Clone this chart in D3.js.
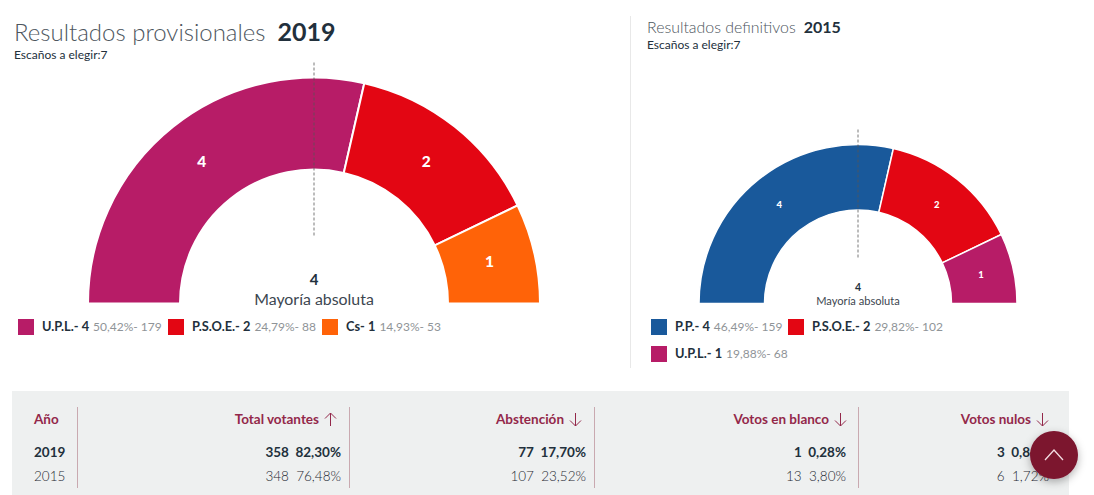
<!DOCTYPE html>
<html>
<head>
<meta charset="utf-8">
<script src="https://cdn.jsdelivr.net/npm/d3@7"></script>
<style>
  html, body { margin: 0; padding: 0; background: #fff; overflow: hidden; }
  text { font-family: Lato, sans-serif; }
</style>
</head>
<body>
<div id="chart"></div>
<script>
const parties2019 = ['U.P.L.', 'P.S.O.E.', 'Cs'];
const seats2019 = [4, 2, 1];
const percents2019 = ['50,42%', '24,79%', '14,93%'];
const votes2019 = [179, 88, 53];
const colors2019 = ['#b71c67', '#e30613', '#ff6308'];

const parties2015 = ['P.P.', 'P.S.O.E.', 'U.P.L.'];
const seats2015 = [4, 2, 1];
const percents2015 = ['46,49%', '29,82%', '19,88%'];
const votes2015 = [159, 102, 68];
const colors2015 = ['#19599b', '#e30613', '#b71c67'];

const tableHeaders = ['Año', 'Total votantes', 'Abstención', 'Votos en blanco', 'Votos nulos'];
const headerArrows = ['', 'up', 'down', 'down', 'down'];
const years = ['2019', '2015'];
const totalCounts = [358, 348];
const totalPercents = ['82,30%', '76,48%'];
const abstCounts = [77, 107];
const abstPercents = ['17,70%', '23,52%'];
const blankCounts = [1, 13];
const blankPercents = ['0,28%', '3,80%'];
const nullCounts = [3, 6];
const nullPercents = ['0,84%', '1,72%'];

const INK = '#22303c';
const GREY = '#8f9498';
const WINE = '#93284a';

const svg = d3.select('#chart').append('svg')
  .attr('width', 1094).attr('height', 495);

const defs = svg.append('defs');
const shadow = defs.append('filter').attr('id', 'btn-shadow')
  .attr('x', '-40%').attr('y', '-40%').attr('width', '180%').attr('height', '180%');
shadow.append('feDropShadow')
  .attr('dx', 0).attr('dy', 3).attr('stdDeviation', 4)
  .attr('flood-color', '#000').attr('flood-opacity', 0.3);

function drawHemicycle(cfg) {
  const g = svg.append('g').attr('transform', `translate(${cfg.cx}, ${cfg.cy})`);
  const pie = d3.pie().sort(null).startAngle(-Math.PI / 2).endAngle(Math.PI / 2);
  const arc = d3.arc().innerRadius(cfg.inner).outerRadius(cfg.outer);
  const arcs = pie(cfg.seats);

  g.selectAll('path').data(arcs).enter().append('path')
    .attr('d', arc)
    .style('fill', (d, i) => cfg.colors[i])
    .style('stroke', '#fff')
    .style('stroke-width', cfg.strokeW);

  g.selectAll('text.seat').data(arcs).enter().append('text')
    .attr('class', 'seat')
    .attr('x', d => arc.centroid(d)[0])
    .attr('y', d => arc.centroid(d)[1] - cfg.seatLift)
    .attr('dy', '0.35em')
    .style('text-anchor', 'middle')
    .style('font-size', cfg.seatSize + 'px').style('font-weight', '900')
    .style('fill', '#fff')
    .text(d => d.data);

  // Línea de mayoría
  g.append('line')
    .attr('x1', 0).attr('y1', cfg.dashTop)
    .attr('x2', 0).attr('y2', cfg.dashBottom)
    .style('stroke', '#555').style('stroke-width', 0.8)
    .style('stroke-dasharray', '3,2');

  g.append('text')
    .attr('y', cfg.majorityY)
    .style('text-anchor', 'middle')
    .style('font-size', cfg.majSize + 'px').style('font-weight', '700')
    .style('fill', INK).text(4);
  g.append('text')
    .attr('y', cfg.majorityY + cfg.majGap)
    .style('text-anchor', 'middle')
    .style('font-size', cfg.labelSize + 'px')
    .style('fill', '#3c4650').text('Mayoría absoluta');
}

function drawTitle(x, y, label, year, labelSize, yearSize, gap, subY) {
  const t = svg.append('text').attr('x', x).attr('y', y).style('fill', '#4d565e');
  t.append('tspan').style('font-size', labelSize + 'px').style('font-weight', '300').text(label);
  t.append('tspan').attr('dx', gap)
    .style('font-size', yearSize + 'px').style('font-weight', '700').style('fill', INK).text(year);
  svg.append('text').attr('x', x).attr('y', subY)
    .style('font-size', '12px').style('fill', INK)
    .text('Escaños a elegir:7');
}

function drawLegendItem(x, y, color, name, seats, pct, votes) {
  svg.append('rect').attr('x', x).attr('y', y - 12)
    .attr('width', 16).attr('height', 16).style('fill', color);
  const t = svg.append('text').attr('x', x + 24).attr('y', y);
  t.append('tspan').style('font-size', '12.8px').style('font-weight', '700').style('fill', INK)
    .text(`${name}- ${seats}`);
  t.append('tspan').attr('dx', 4).style('font-size', '12px').style('fill', GREY)
    .text(`${pct}- ${votes}`);
}

drawTitle(14, 41, 'Resultados provisionales', '2019', 24, 25, 12, 59);
drawHemicycle({
  cx: 314, cy: 303.5, outer: 226, inner: 134, seats: seats2019, colors: colors2019,
  strokeW: 2, seatSize: 15.5, seatLift: 1.5, dashTop: -241, dashBottom: -67,
  majorityY: -19, majGap: 20, majSize: 15, labelSize: 15.9
});
const legendX2019 = [18, 168, 322];
parties2019.forEach((p, i) => drawLegendItem(legendX2019[i], 331, colors2019[i], p, seats2019[i], percents2019[i], votes2019[i]));

svg.append('line')
  .attr('x1', 630.5).attr('y1', 16).attr('x2', 630.5).attr('y2', 368)
  .style('stroke', '#e8e8e8').style('stroke-width', 1);

drawTitle(647, 33, 'Resultados definitivos', '2015', 15.9, 16, 8, 49);
drawHemicycle({
  cx: 858, cy: 303.5, outer: 159, inner: 93.5, seats: seats2015, colors: colors2015,
  strokeW: 1.5, seatSize: 9.5, seatLift: 0.5, dashTop: -174, dashBottom: -46,
  majorityY: -13, majGap: 14, majSize: 10.5, labelSize: 11.1
});
const legendX2015 = [651, 788, 651];
const legendY2015 = [331, 331, 358];
parties2015.forEach((p, i) => drawLegendItem(legendX2015[i], legendY2015[i], colors2015[i], p, seats2015[i], percents2015[i], votes2015[i]));

// Tabla de participación
svg.append('rect').attr('x', 12).attr('y', 391)
  .attr('width', 1057).attr('height', 104).style('fill', '#eef0f0');

const columnRight = [null, 341, 586, 846, 1049];
const dividers = [77.5, 349.5, 594.5, 858.5];
dividers.forEach(x => {
  svg.append('line').attr('x1', x).attr('y1', 407).attr('x2', x).attr('y2', 488)
    .style('stroke', '#c9a9b0').style('stroke-width', 1);
});

// Flecha fina a la derecha de cada cabecera
function drawArrow(xRight, yMid, dir) {
  const cx = xRight - 5.5;
  const tip = dir === 'up' ? yMid - 6.5 : yMid + 6.5;
  const tail = dir === 'up' ? yMid + 6.5 : yMid - 6.5;
  const wing = dir === 'up' ? tip + 5.5 : tip - 5.5;
  svg.append('path')
    .attr('d', `M${cx},${tail}L${cx},${tip}M${cx - 5.5},${wing}L${cx},${tip}L${cx + 5.5},${wing}`)
    .style('fill', 'none').style('stroke', WINE).style('stroke-width', 1);
}

const headerRight = [null, 336, 581, 846, 1048];
tableHeaders.forEach((h, i) => {
  const y = 424;
  if (i === 0) {
    svg.append('text').attr('x', 34).attr('y', y)
      .style('font-size', '13.5px').style('font-weight', '700').style('fill', WINE).text(h);
    return;
  }
  svg.append('text').attr('x', headerRight[i] - 17).attr('y', y)
    .style('text-anchor', 'end')
    .style('font-size', '13.5px').style('font-weight', '700').style('fill', WINE)
    .text(h);
  drawArrow(headerRight[i], 419.5, headerArrows[i]);
});

const rowY = [457, 481];
const countCols = [totalCounts, abstCounts, blankCounts, nullCounts];
const pctCols = [totalPercents, abstPercents, blankPercents, nullPercents];
years.forEach((yr, r) => {
  const weight = r === 0 ? '700' : '300';
  const fill = r === 0 ? INK : '#1f2a33';
  svg.append('text').attr('x', 34).attr('y', rowY[r])
    .style('font-size', '13.5px').style('font-weight', weight).style('fill', fill).text(yr);
  countCols.forEach((col, c) => {
    svg.append('text').attr('x', columnRight[c + 1]).attr('y', rowY[r])
      .style('text-anchor', 'end')
      .style('font-size', '13.5px').style('font-weight', weight).style('fill', fill)
      .text(`${col[r]}\u00a0\u00a0${pctCols[c][r]}`);
  });
});

// Botón de volver arriba
svg.append('circle').attr('cx', 1054).attr('cy', 455).attr('r', 24)
  .style('fill', '#7b142e').attr('filter', 'url(#btn-shadow)');
svg.append('path').attr('d', 'M1045,460L1054,450L1063,460')
  .style('fill', 'none').style('stroke', '#f3dde2').style('stroke-width', 1.3);
</script>
</body>
</html>
